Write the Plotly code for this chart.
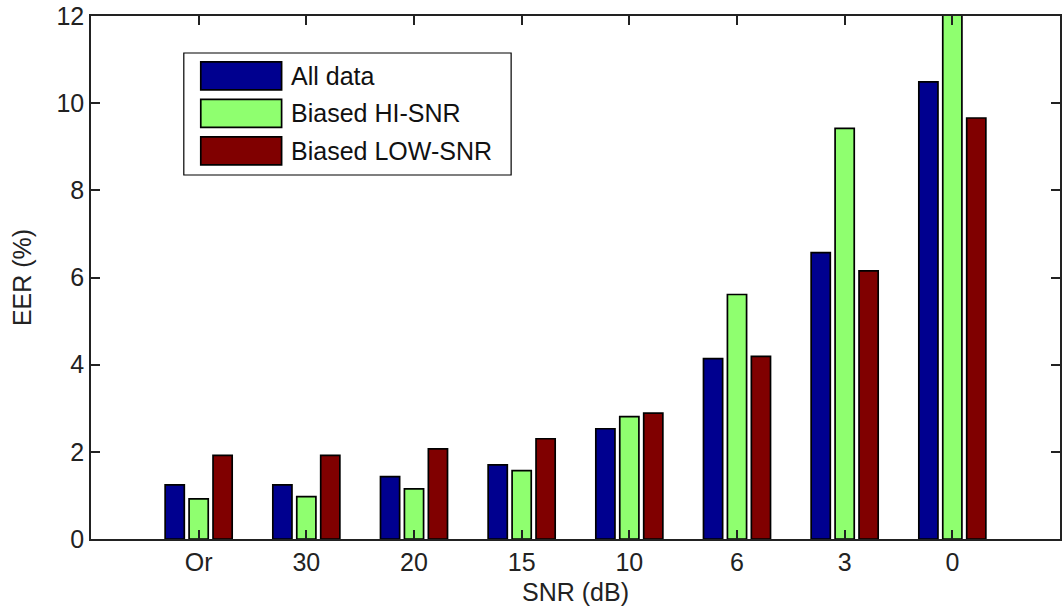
import plotly.graph_objects as go

categories = ["Or", "30", "20", "15", "10", "6", "3", "0"]
series_names = ["All data", "Biased HI-SNR", "Biased LOW-SNR"]
all_data = [1.24, 1.24, 1.43, 1.70, 2.53, 4.14, 6.57, 10.49]
biased_hi = [0.92, 0.97, 1.15, 1.57, 2.81, 5.61, 9.42, 13.2]
biased_low = [1.92, 1.92, 2.07, 2.30, 2.89, 4.19, 6.15, 9.66]
colors = ["#00008F", "#8FFF6F", "#800000"]
y_ticks = [0, 2, 4, 6, 8, 10, 12]

FONT = "Liberation Sans, Arial, sans-serif"
FS = 25

x_pos = list(range(1, len(categories) + 1))

fig = go.Figure()
for name, vals, col in zip(series_names, [all_data, biased_hi, biased_low], colors):
    fig.add_trace(go.Bar(
        x=x_pos, y=vals, name=name,
        marker=dict(color=col, line=dict(color="black", width=1.7)),
        showlegend=False,
    ))

W, H = 1062, 611
L, R, T, B = 91, 0, 16, 72
pw, ph = W - L - R, H - T - B

def px(x):
    return (x - L) / pw

def py(y):
    return (H - B - y) / ph

# custom legend (MATLAB style)
shapes = [dict(type="rect", xref="paper", yref="paper",
               x0=px(184), x1=px(512), y0=py(175), y1=py(53),
               line=dict(color="black", width=1.2), fillcolor="white", layer="above")]
annotations = []
row_y = [75.8, 113.3, 150.8]
for name, col, ry in zip(series_names, colors, row_y):
    shapes.append(dict(type="rect", xref="paper", yref="paper",
                       x0=px(201), x1=px(282), y0=py(ry + 14), y1=py(ry - 14),
                       line=dict(color="black", width=1.7), fillcolor=col, layer="above"))
    annotations.append(dict(xref="paper", yref="paper", x=px(289), y=py(ry),
                            text=name, showarrow=False, xanchor="left", yanchor="middle",
                            font=dict(family=FONT, size=FS, color="#111")))

fig.update_layout(
    width=W, height=H,
    margin=dict(l=L, r=R, t=T, b=B),
    paper_bgcolor="white", plot_bgcolor="white",
    barmode="group", bargap=0.333, bargroupgap=0.2,
    font=dict(family=FONT, size=FS, color="#222"),
    shapes=shapes, annotations=annotations,
    xaxis=dict(
        range=[0, 9], tickmode="array", tickvals=x_pos, ticktext=categories,
        ticks="inside", ticklen=9, tickcolor="#222", tickwidth=1.5,
        showline=True, linecolor="#222", linewidth=1.5, mirror="ticks",
        showgrid=False, zeroline=False,
        title=dict(text="SNR (dB)", standoff=9, font=dict(family=FONT, size=FS)),
    ),
    yaxis=dict(
        range=[0, 12], tickmode="array", tickvals=y_ticks,
        ticks="inside", ticklen=9, tickcolor="#222", tickwidth=1.5,
        showline=True, linecolor="#222", linewidth=1.5, mirror="ticks",
        showgrid=False, zeroline=False,
        title=dict(text="EER (%)", standoff=18, font=dict(family=FONT, size=FS)),
    ),
)

fig.write_html("out.html")
